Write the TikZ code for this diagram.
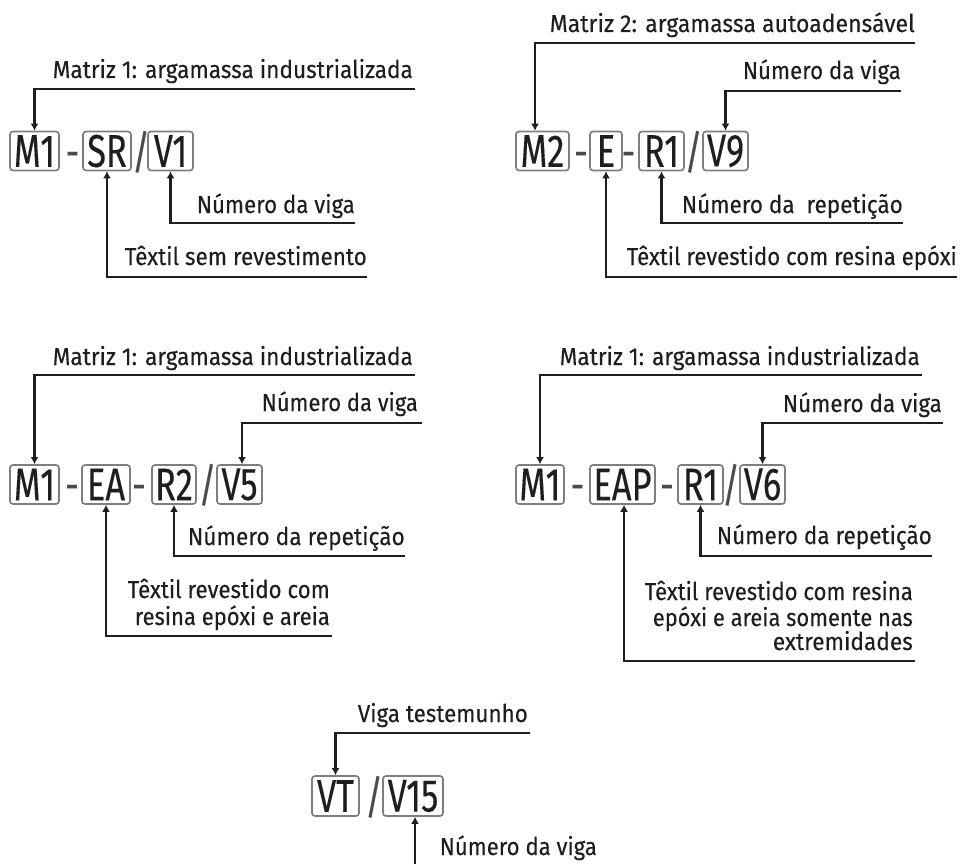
\documentclass[tikz,border=0pt]{standalone}
\usepackage{graphicx}
\usepackage{fontspec}
\setmainfont{Fira Sans}
\newfontfamily\lblfont{Fira Sans}[FakeBold=0.2]
\newfontfamily\codefont{Fira Sans}[FakeStretch=0.75,FakeBold=0.2]
\usetikzlibrary{arrows.meta}
\definecolor{ink}{HTML}{1E1E1E}
\definecolor{frame}{HTML}{7E7E7E}

% set a label to a given run width, keeping its height
\newcommand{\runto}[2]{\resizebox{#1}{\height}{#2}}

\tikzset{
  lbl/.style={font=\lblfont\fontsize{24.5}{28}\selectfont, text=ink, inner sep=0pt, anchor=base east},
  code/.style={draw=frame, line width=1.7pt, rounded corners=3pt,
    font=\codefont\fontsize{46}{50}\selectfont, text=ink, inner sep=0pt, minimum height=39pt},
  sep/.style={font=\codefont\fontsize{46}{50}\selectfont, text=ink!80, inner sep=0pt, anchor=base},
  leader/.style={draw=ink, line width=2.2pt, -{Latex[length=7pt,width=8pt]}},
}

\begin{document}
\begin{tikzpicture}[x=1pt,y=-1pt]
\useasboundingbox (0,0) rectangle (960,864);

% ---- M1-SR/V1 ----
\node[lbl] (p1m) at (413,78) {\runto{360pt}{Matriz 1: argamassa industrializada}};
\coordinate (p1mEnd) at (415,89);
\node[code, minimum width=49pt] (p1M1) at (34.5,151) {M1};
\node[sep] (p1s1) at (72.5,168) {-};
\node[code, minimum width=48pt] (p1SR) at (107,151) {SR};
\node[sep] (p1s2) at (141,168) {/};
\node[code, minimum width=45pt] (p1V1) at (170.5,151) {V1};
\node[lbl] (p1v) at (355,213) {\runto{158pt}{Número da viga}};
\coordinate (p1vEnd) at (355,223);
\node[lbl] (p1t) at (367,265) {\runto{242pt}{Têxtil sem revestimento}};
\coordinate (p1tEnd) at (367,277);
\draw[leader] (p1mEnd) -| (p1M1.north);
\draw[leader] (p1vEnd) -| (p1V1.south);
\draw[leader] (p1tEnd) -| (p1SR.south);

% ---- M2-E-R1/V9 ----
\node[lbl] (p2m) at (915,32) {\runto{365pt}{Matriz 2: argamassa autoadensável}};
\coordinate (p2mEnd) at (915,43);
\node[lbl] (p2v) at (901,79) {\runto{158pt}{Número da viga}};
\coordinate (p2vEnd) at (901,91);
\node[code, minimum width=53pt] (p2M2) at (542.5,151) {M2};
\node[sep] (p2s1) at (581,168) {-};
\node[code, minimum width=32pt] (p2E) at (606,151) {E};
\node[sep] (p2s2) at (628.5,168) {-};
\node[code, minimum width=45pt] (p2R1) at (661.5,151) {R1};
\node[sep] (p2s3) at (693.5,168) {/};
\node[code, minimum width=45pt] (p2V9) at (725.5,151) {V9};
\node[lbl] (p2r) at (903,213) {\runto{221pt}{Número da\ \ repetição}};
\coordinate (p2rEnd) at (903,223);
\node[lbl] (p2t) at (957,265) {\runto{330pt}{Têxtil revestido com resina epóxi}};
\coordinate (p2tEnd) at (957,277);
\draw[leader] (p2mEnd) -| ([xshift=-7.5pt]p2M2.north);
\draw[leader] (p2vEnd) -| (p2V9.north);
\draw[leader] (p2rEnd) -| (p2R1.south);
\draw[leader] (p2tEnd) -| (p2E.south);

% ---- M1-EA-R2/V5 ----
\node[lbl] (p3m) at (413,365) {\runto{360pt}{Matriz 1: argamassa industrializada}};
\coordinate (p3mEnd) at (415,375);
\node[lbl] (p3v) at (418,411) {\runto{156pt}{Número da viga}};
\coordinate (p3vEnd) at (422,423);
\node[code, minimum width=49pt] (p3M1) at (34.5,484.5) {M1};
\node[sep] (p3s1) at (72,501) {-};
\node[code, minimum width=48pt] (p3EA) at (106,484.5) {EA};
\node[sep] (p3s2) at (139,501) {-};
\node[code, minimum width=44pt] (p3R2) at (174,484.5) {R2};
\node[sep] (p3s3) at (207.5,501) {/};
\node[code, minimum width=45pt] (p3V5) at (239.5,484.5) {V5};
\node[lbl] (p3r) at (405,545) {\runto{217pt}{Número da repetição}};
\coordinate (p3rEnd) at (405,556);
\node[lbl] (p3ta) at (330,598) {\runto{202pt}{Têxtil revestido com}};
\node[lbl] (p3tb) at (330,625) {\runto{195pt}{resina epóxi e areia}};
\coordinate (p3tEnd) at (332,636);
\draw[leader] (p3mEnd) -| (p3M1.north);
\draw[leader] (p3vEnd) -| ([xshift=2.5pt]p3V5.north);
\draw[leader] (p3rEnd) -| (p3R2.south);
\draw[leader] (p3tEnd) -| (p3EA.south);

% ---- M1-EAP-R1/V6 ----
\node[lbl] (p4m) at (920,365) {\runto{360pt}{Matriz 1: argamassa industrializada}};
\coordinate (p4mEnd) at (922,375);
\node[lbl] (p4v) at (942,412) {\runto{159pt}{Número da viga}};
\coordinate (p4vEnd) at (943,423);
\node[code, minimum width=48pt] (p4M1) at (540,484.5) {M1};
\node[sep] (p4s1) at (577.5,501) {-};
\node[code, minimum width=65pt] (p4EAP) at (622.5,484.5) {EAP};
\node[sep] (p4s2) at (667,501) {-};
\node[code, minimum width=45pt] (p4R1) at (700.5,484.5) {R1};
\node[sep] (p4s3) at (731,501) {/};
\node[code, minimum width=45pt] (p4V6) at (762.5,484.5) {V6};
\node[lbl] (p4r) at (932,544) {\runto{215pt}{Número da repetição}};
\coordinate (p4rEnd) at (932,556);
\node[lbl] (p4ta) at (913,600) {\runto{268pt}{Têxtil revestido com resina}};
\node[lbl] (p4tb) at (913,626) {\runto{260pt}{epóxi e areia somente nas}};
\node[lbl] (p4tc) at (913,650) {\runto{140pt}{extremidades}};
\coordinate (p4tEnd) at (915,661);
\draw[leader] (p4mEnd) -| (p4M1.north);
\draw[leader] (p4vEnd) -| (p4V6.north);
\draw[leader] (p4rEnd) -| (p4R1.south);
\draw[leader] (p4tEnd) -| ([xshift=1.5pt]p4EAP.south);

% ---- VT/V15 ----
\node[lbl] (p5m) at (528,722) {\runto{170pt}{Viga testemunho}};
\coordinate (p5mEnd) at (530,733);
\node[code, minimum width=47pt, minimum height=40pt] (p5VT) at (335.5,796) {VT};
\node[sep] (p5s1) at (374,813) {/};
\node[code, minimum width=60pt, minimum height=40pt] (p5V15) at (413,796) {V15};
\node[lbl] (p5v) at (597,855) {\runto{157pt}{Número da viga}};
\coordinate (p5vEnd) at (415,864);
\draw[leader] (p5mEnd) -| (p5VT.north);
\draw[leader] (p5vEnd) -- (p5V15.south -| p5vEnd);
\end{tikzpicture}
\end{document}
